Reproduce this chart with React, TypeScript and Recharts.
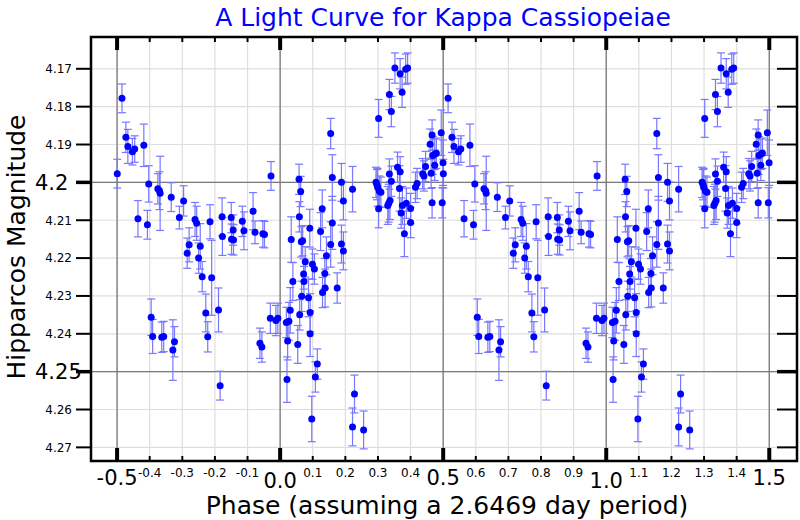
import React from 'react';
import { ScatterChart, Scatter, XAxis, YAxis, CartesianGrid, ErrorBar, ReferenceLine } from 'recharts';

// Phase (0..1) of each Hipparcos observation
const phases = [
  0.019, 0.021, 0.023, 0.027, 0.031, 0.034, 0.039, 0.054, 0.058, 0.059,
  0.060, 0.063, 0.065, 0.066, 0.069, 0.072, 0.073, 0.077, 0.087, 0.091,
  0.092, 0.092, 0.097, 0.099, 0.105, 0.108, 0.114, 0.124, 0.129, 0.130,
  0.137, 0.138, 0.142, 0.155, 0.155, 0.160, 0.160, 0.175, 0.188, 0.188,
  0.194, 0.194, 0.222, 0.222, 0.228, 0.256, 0.294, 0.297, 0.299, 0.302,
  0.302, 0.304, 0.309, 0.330, 0.333, 0.335, 0.335, 0.337, 0.341, 0.341,
  0.352, 0.360, 0.366, 0.368, 0.368, 0.371, 0.374, 0.375, 0.381, 0.385,
  0.387, 0.391, 0.400, 0.400, 0.415, 0.420, 0.437, 0.441, 0.446, 0.460,
  0.463, 0.466, 0.466, 0.468, 0.474, 0.474, 0.479, 0.494, 0.497, 0.4995,
  0.5005, 0.515, 0.527, 0.533, 0.547, 0.554, 0.564, 0.582, 0.593, 0.597,
  0.6045, 0.609, 0.625, 0.630, 0.632, 0.637, 0.643, 0.666, 0.671, 0.676,
  0.691, 0.704, 0.715, 0.721, 0.739, 0.744, 0.750, 0.755, 0.761, 0.772,
  0.778, 0.785, 0.790, 0.811, 0.816, 0.822, 0.823, 0.850, 0.851, 0.856,
  0.857, 0.884, 0.889, 0.917, 0.923, 0.938, 0.944, 0.947, 0.952, 0.970,
  0.972, 0.987, 0.993,
];

// Hipparcos magnitude of each observation
const magnitudes = [
  4.2370, 4.2521, 4.2419, 4.2367, 4.2338, 4.2151, 4.2262, 4.2428, 4.1992, 4.2091,
  4.2350, 4.2024, 4.2157, 4.2301, 4.2154, 4.2242, 4.2262, 4.2210, 4.2305, 4.2121,
  4.2344, 4.2400, 4.2625, 4.2216, 4.2229, 4.2514, 4.2480, 4.2130, 4.2070, 4.2291,
  4.2241, 4.2279, 4.2194, 4.1871, 4.2164, 4.1987, 4.2107, 4.2279, 4.2000, 4.2163,
  4.2049, 4.2181, 4.2018, 4.2646, 4.2559, 4.2654, 4.2000, 4.2006, 4.2013, 4.1831,
  4.2070, 4.2023, 4.2026, 4.2061, 4.2055, 4.1978, 4.1768, 4.2048, 4.1813, 4.1997,
  4.1698, 4.1960, 4.2016, 4.1713, 4.1972, 4.2081, 4.1762, 4.2061, 4.2136, 4.1701,
  4.2055, 4.1698, 4.2069, 4.2106, 4.2013, 4.2003, 4.1977, 4.1983, 4.1958, 4.1899,
  4.1976, 4.1875, 4.2054, 4.1929, 4.1955, 4.1926, 4.1923, 4.1869, 4.2054, 4.1948,
  4.1977, 4.1778, 4.1881, 4.1905, 4.1919, 4.1912, 4.2096, 4.1902, 4.2112, 4.2004,
  4.2356, 4.2407, 4.2017, 4.2022, 4.2029, 4.2409, 4.2407, 4.2039, 4.2443, 4.2421,
  4.2093, 4.2049, 4.2187, 4.2165, 4.2098, 4.2108, 4.2200, 4.2169, 4.2249, 4.2345,
  4.2408, 4.2104, 4.2252, 4.2337, 4.2537, 4.2091, 4.2143, 4.2093, 4.2150, 4.2126,
  4.2152, 4.2103, 4.2128, 4.2076, 4.2132, 4.2425, 4.2435, 4.2136, 4.2138, 4.2359,
  4.1983, 4.2365, 4.2359,
];

// Magnitude uncertainty (half-length of the error bar)
const errors = [
  0.0040, 0.0060, 0.0050, 0.0050, 0.0060, 0.0060, 0.0050, 0.0050, 0.0040, 0.0040,
  0.0040, 0.0040, 0.0040, 0.0040, 0.0040, 0.0040, 0.0040, 0.0040, 0.0050, 0.0050,
  0.0050, 0.0060, 0.0060, 0.0040, 0.0040, 0.0040, 0.0040, 0.0050, 0.0050, 0.0040,
  0.0040, 0.0050, 0.0050, 0.0040, 0.0060, 0.0060, 0.0070, 0.0040, 0.0050, 0.0050,
  0.0050, 0.0050, 0.0060, 0.0050, 0.0050, 0.0050, 0.0040, 0.0040, 0.0050, 0.0050,
  0.0050, 0.0040, 0.0040, 0.0050, 0.0050, 0.0040, 0.0040, 0.0050, 0.0040, 0.0040,
  0.0040, 0.0040, 0.0060, 0.0040, 0.0040, 0.0040, 0.0040, 0.0050, 0.0060, 0.0040,
  0.0040, 0.0040, 0.0040, 0.0040, 0.0040, 0.0040, 0.0040, 0.0040, 0.0040, 0.0040,
  0.0040, 0.0040, 0.0040, 0.0050, 0.0040, 0.0040, 0.0040, 0.0060, 0.0040, 0.0060,
  0.0038, 0.0038, 0.0040, 0.0045, 0.0035, 0.0035, 0.0048, 0.0056, 0.0038, 0.0048,
  0.0048, 0.0045, 0.0040, 0.0050, 0.0098, 0.0040, 0.0040, 0.0038, 0.0080, 0.0040,
  0.0030, 0.0040, 0.0040, 0.0045, 0.0045, 0.0045, 0.0040, 0.0060, 0.0040, 0.0050,
  0.0040, 0.0045, 0.0099, 0.0058, 0.0038, 0.0050, 0.0050, 0.0040, 0.0040, 0.0040,
  0.0040, 0.0040, 0.0050, 0.0049, 0.0030, 0.0040, 0.0040, 0.0035, 0.0035, 0.0040,
  0.0038, 0.0040, 0.0040,
];

const xTicks = [-0.5, -0.4, -0.3, -0.2, -0.1, 0, 0.1, 0.2, 0.3, 0.4, 0.5, 0.6, 0.7, 0.8, 0.9, 1.0, 1.1, 1.2, 1.3, 1.4, 1.5];
const xMajorTicks = [-0.5, 0, 0.5, 1.0, 1.5];
const xIntegerTicks = [0, 1.0];
const yTicks = [4.17, 4.18, 4.19, 4.2, 4.21, 4.22, 4.23, 4.24, 4.25, 4.26, 4.27];
const yMajorTicks = [4.2, 4.25];
const xDomain = [-0.58, 1.585];
const yDomain = [4.1616, 4.2736];

const titleText = 'A Light Curve for Kappa Cassiopeiae';
const xLabelText = 'Phase (assuming a 2.6469 day period)';
const yLabelText = 'Hipparcos Magnitude';

// Light curve is shown over phases -0.5 .. 1.5 (each observation repeated one cycle over)
const observations = phases.map((p, i) => ({ phase: p, mag: magnitudes[i], err: errors[i] }));
const plotted = observations.flatMap((d) =>
  d.phase >= 0.5 ? [d, { ...d, phase: d.phase - 1 }] : [d, { ...d, phase: d.phase + 1 }]
);

const W = 800;
const H = 520;
const PL = 91;
const PR = 797;
const PT = 37;
const PB = 461;
const FONT = 'DejaVu Sans';

const isIn = (arr: number[], v: number) => arr.some((m) => Math.abs(m - v) < 1e-9);

const XTick = (props: any) => {
  const { x, payload } = props;
  const v = payload.value as number;
  const major = isIn(xMajorTicks, v);
  const integer = isIn(xIntegerTicks, v);
  const len = major ? 13 : 5;
  const sw = major ? 4 : 2;
  const ty = major ? (integer ? PB + 27 : PB + 24) : PB + 16;
  return (
    <g>
      <line x1={x} x2={x} y1={PB} y2={PB - len} stroke="#000" strokeWidth={sw} />
      <line x1={x} x2={x} y1={PT} y2={PT + len} stroke="#000" strokeWidth={sw} />
      <text x={x} y={ty} textAnchor="middle" fontSize={major ? 21 : 12} fontFamily={FONT} fill="#000">
        {v.toFixed(1)}
      </text>
    </g>
  );
};

const YTick = (props: any) => {
  const { y, payload } = props;
  const v = payload.value as number;
  const major = isIn(yMajorTicks, v);
  const fs = major ? 21 : 12;
  const sw = major ? 3.5 : 2;
  return (
    <g>
      <line x1={PL - 15} x2={PL} y1={y} y2={y} stroke="#000" strokeWidth={sw} />
      <line x1={PR - 20} x2={PR} y1={y} y2={y} stroke="#000" strokeWidth={sw} />
      <text
        x={major ? 35 : 72}
        y={y + fs * 0.36}
        textAnchor={major ? 'start' : 'end'}
        fontSize={fs}
        fontFamily={FONT}
        fill="#000"
      >
        {String(v)}
      </text>
    </g>
  );
};

const Dot = (props: any) => {
  const { cx, cy } = props;
  if (cx == null || cy == null) return null;
  return <circle cx={cx} cy={cy} r={3.5} fill="#0000ff" />;
};

export default function App() {
  return (
    <div style={{ position: 'absolute', left: 0, top: 0, width: W, height: H, background: '#fff' }}>
      <ScatterChart width={W} height={H} margin={{ top: PT, right: W - PR, bottom: 0, left: 0 }}>
        <CartesianGrid stroke="#dedede" strokeWidth={1.2} />
        {xMajorTicks.map((v) => (
          <ReferenceLine key={'vx' + v} x={v} stroke="#7a7a7a" strokeWidth={1.3} />
        ))}
        {yMajorTicks.map((v) => (
          <ReferenceLine key={'hy' + v} y={v} stroke="#7a7a7a" strokeWidth={1.3} />
        ))}
        <XAxis
          type="number"
          dataKey="phase"
          domain={xDomain}
          allowDataOverflow
          ticks={xTicks}
          interval={0}
          height={H - PB}
          tickLine={false}
          axisLine={false}
          tick={<XTick />}
        />
        <YAxis
          type="number"
          dataKey="mag"
          domain={yDomain}
          allowDataOverflow
          reversed
          ticks={yTicks}
          interval={0}
          width={PL}
          tickLine={false}
          axisLine={false}
          tick={<YTick />}
        />
        <Scatter data={plotted} shape={<Dot />} isAnimationActive={false}>
          <ErrorBar dataKey="err" direction="y" width={4} stroke="#7777ff" strokeWidth={1.2} isAnimationActive={false} />
        </Scatter>
      </ScatterChart>
      <svg width={W} height={H} style={{ position: 'absolute', left: 0, top: 0, pointerEvents: 'none' }}>
        <rect x={PL} y={PT} width={PR - PL} height={PB - PT} fill="none" stroke="#000" strokeWidth={2.5} />
        <text x={443} y={26} textAnchor="middle" fontSize={25} fontFamily={FONT} fill="#0000ff">
          {titleText}
        </text>
        <text x={447} y={514} textAnchor="middle" fontSize={25} fontFamily={FONT} fill="#000">
          {xLabelText}
        </text>
        <text
          x={25}
          y={247}
          textAnchor="middle"
          fontSize={25}
          fontFamily={FONT}
          fill="#000"
          transform="rotate(-90 25 247)"
        >
          {yLabelText}
        </text>
      </svg>
    </div>
  );
}
